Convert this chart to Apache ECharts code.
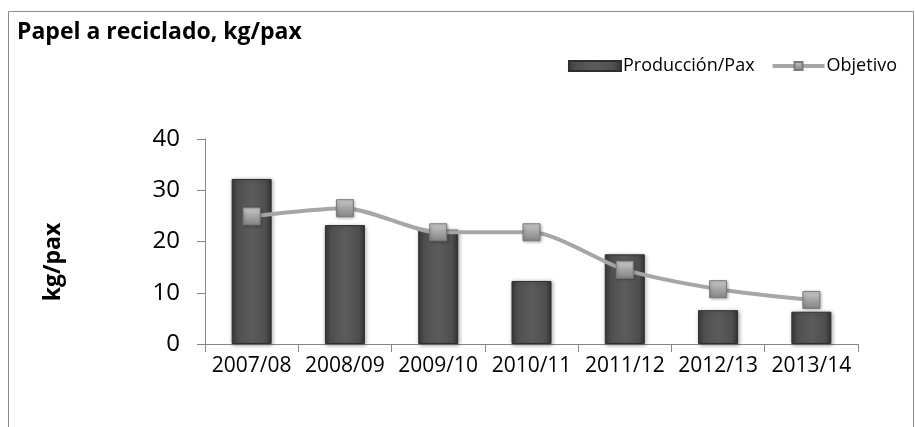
<!DOCTYPE html>
<html>
<head>
<meta charset="utf-8">
<script src="https://cdn.jsdelivr.net/npm/echarts@6/dist/echarts.min.js"></script>
<style>
  html, body { margin: 0; padding: 0; background: #fff; }
  #main { width: 915px; height: 427px; }
</style>
</head>
<body>
<div id="main"></div>
<script>
// datos del gráfico
var categorias = ['2007/08', '2008/09', '2009/10', '2010/11', '2011/12', '2012/13', '2013/14'];
var produccion = [32.2, 23.2, 22.3, 12.3, 17.5, 6.6, 6.3];   // Producción/Pax
var objetivo = [24.9, 26.5, 21.8, 21.8, 14.5, 10.7, 8.6];    // Objetivo
var ticksY = [0, 10, 20, 30, 40];

var FONT = '"Open Sans"';
var chart = echarts.init(document.getElementById('main'));

// barra gris oscura con brillo en el centro
var barColor = new echarts.graphic.LinearGradient(0, 0, 1, 0, [
  { offset: 0, color: '#3a3a3a' },
  { offset: 0.15, color: '#4f4f4f' },
  { offset: 0.5, color: '#5c5c5c' },
  { offset: 0.85, color: '#4f4f4f' },
  { offset: 1, color: '#333333' }
]);
var markColor = new echarts.graphic.LinearGradient(0, 0, 0, 1, [
  { offset: 0, color: '#d0d0d0' },
  { offset: 0.45, color: '#a8a8a8' },
  { offset: 1, color: '#858585' }
]);

var option = {
  animation: false,
  backgroundColor: '#fff',
  textStyle: { fontFamily: FONT },
  graphic: [
    // marco
    { type: 'rect', shape: { x: 8.5, y: 11.5, width: 905, height: 430 },
      style: { fill: 'none', stroke: '#8a8a8a', lineWidth: 1 } },
    { type: 'text', left: 17, top: 21,
      style: { text: 'Papel a reciclado, kg/pax', font: 'bold 23px ' + FONT, fill: '#000' } },
    { type: 'text', x: 53, y: 262, rotation: Math.PI / 2,
      style: { text: 'kg/pax', font: 'bold 23px ' + FONT, fill: '#000', align: 'center', verticalAlign: 'middle' } }
  ],
  legend: {
    right: 13, top: 52,
    itemWidth: 52, itemHeight: 10, itemGap: 16,
    textStyle: { fontSize: 18, color: '#000', fontFamily: FONT, padding: [0, 0, 0, -3] },
    data: [
      { name: 'Producción/Pax', icon: 'rect' },
      { name: 'Objetivo', lineStyle: { width: 4, color: '#a6a6a6' } }
    ]
  },
  grid: { left: 205, right: 57, top: 139, bottom: 83, containLabel: false },
  xAxis: {
    type: 'category',
    data: categorias,
    axisLine: { lineStyle: { color: '#868686', width: 1 } },
    axisTick: { show: true, length: 8, lineStyle: { color: '#868686' } },
    axisLabel: { interval: 0, fontSize: 21, color: '#000', margin: 12, fontFamily: FONT }
  },
  yAxis: {
    type: 'value',
    min: ticksY[0], max: ticksY[ticksY.length - 1], interval: 10,
    axisLine: { show: true, lineStyle: { color: '#868686', width: 1 } },
    axisTick: { show: true, length: 8, lineStyle: { color: '#868686' } },
    splitLine: { show: false },
    axisLabel: { fontSize: 24, color: '#000', margin: 25, fontFamily: FONT }
  },
  series: [
    {
      name: 'Producción/Pax',
      type: 'bar',
      data: produccion,
      barWidth: 40,
      itemStyle: {
        color: barColor,
        borderColor: '#2e2e2e', borderWidth: 1,
        shadowColor: 'rgba(0,0,0,0.35)', shadowBlur: 4, shadowOffsetX: 1, shadowOffsetY: 1
      }
    },
    {
      name: 'Objetivo',
      type: 'line',
      data: objetivo,
      smooth: 0.25,
      symbol: 'rect',
      symbolSize: 17,
      lineStyle: { color: '#a6a6a6', width: 4 },
      itemStyle: {
        color: markColor, borderColor: '#7a7a7a', borderWidth: 1,
        shadowColor: 'rgba(0,0,0,0.3)', shadowBlur: 3, shadowOffsetX: 1, shadowOffsetY: 1
      }
    }
  ]
};
chart.setOption(option);
</script>
</body>
</html>
